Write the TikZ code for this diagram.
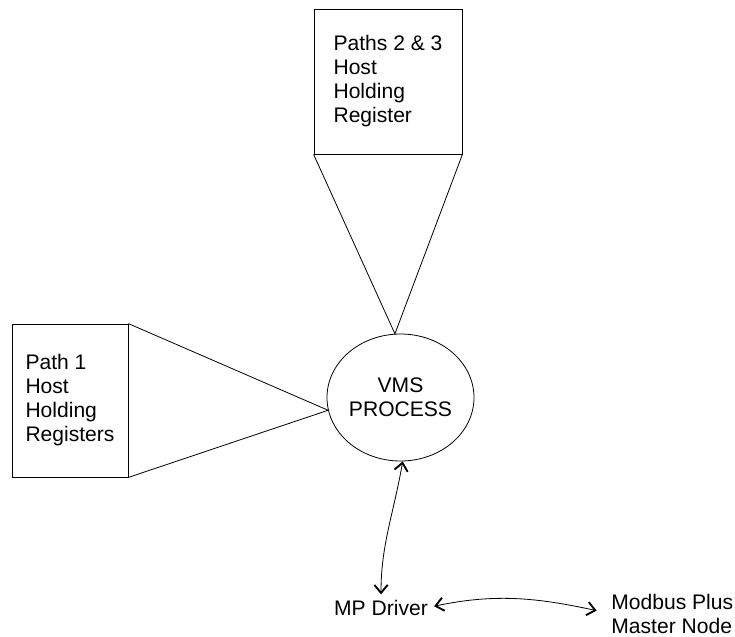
\documentclass[tikz,border=0pt]{standalone}
\usepackage{fontspec}
\setmainfont{Liberation Sans}
\usetikzlibrary{arrows.meta,shapes.geometric}
\begin{document}
\begin{tikzpicture}[x=0.75pt,y=-0.75pt,line width=0.6pt,
    every node/.style={font=\fontsize{15.8}{18}\selectfont},
    regbox/.style={draw,align=left},
    link/.style={{Straight Barb[length=6pt,width=10pt,line width=1.4pt]}-{Straight Barb[length=6pt,width=10pt,line width=1.4pt]}}]
    \useasboundingbox (0,0) rectangle (735,636);
    \node[regbox,minimum width=111pt,minimum height=108.75pt] (hr23) at (388,81.5) {Paths 2 \& 3\\Host\\Holding\\Register};
    \node[regbox,minimum width=87pt,minimum height=114.75pt] (hr1) at (70,400.5) {Path 1\\Host\\Holding\\Registers};
    \node[draw,ellipse,align=center,inner sep=0pt,minimum width=110.25pt,minimum height=95.25pt] (vms) at (400.5,397.5) {VMS\\PROCESS};
    \node[anchor=base,inner sep=0pt] (mp) at (381,615) {MP Driver};
    \node[anchor=north west,align=left,inner sep=0pt] (mbp) at (611,593.5) {Modbus Plus\\Master Node};
    % register blocks fan into the process
    \draw (hr23.south west) -- (vms.95) -- (hr23.south east);
    \draw (hr1.north east) -- (vms.190) -- (hr1.south east);
    % driver links
    \draw[link,shorten >=3.75pt] (vms.272) to[out=-100,in=90] (mp.north);
    \draw[link,shorten <=4.5pt,shorten >=11pt] (mp.east) to[out=12,in=168] (mbp.west);
\end{tikzpicture}
\end{document}
